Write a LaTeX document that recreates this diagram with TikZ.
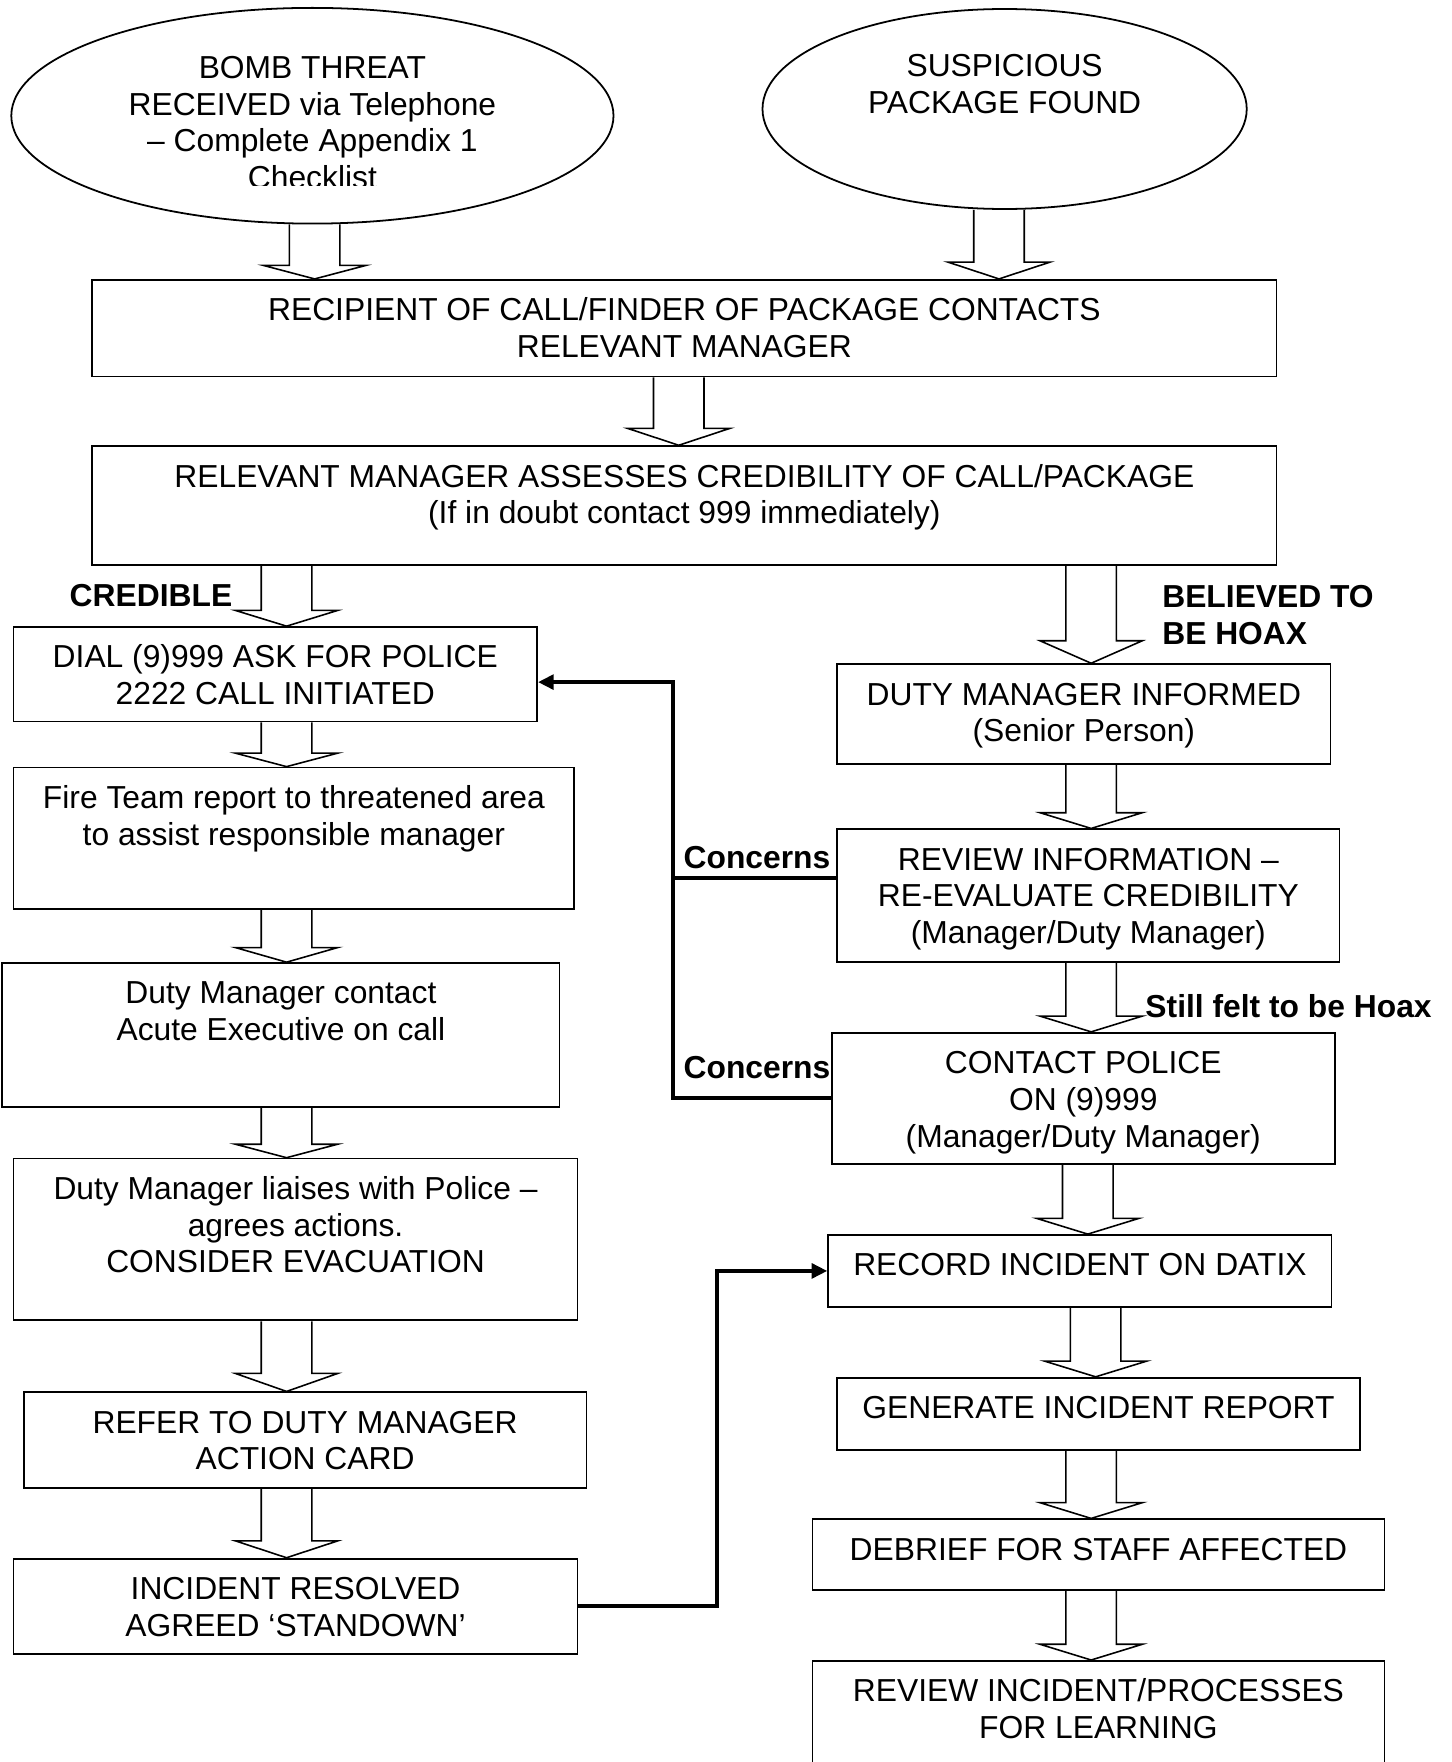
\documentclass[tikz,border=0pt]{standalone}
\usepackage{fontspec}
\setmainfont{Liberation Sans}
\usetikzlibrary{calc,arrows.meta,shapes.geometric}
\tikzset{
  boxtext/.style 2 args={inner sep=0pt,
    execute at begin node={\begin{minipage}[c][#2][t]{#1}\centering\vspace*{0.27cm}\strut},
    execute at end node={\strut\end{minipage}}},
  flowbox/.style 2 args={rectangle, draw, line width=0.9pt, boxtext={#1}{#2}},
  startbubble/.style 2 args={ellipse, draw, line width=0.9pt, inner sep=0pt, minimum width=#1, minimum height=#2},
  % --- hollow block arrows, straight down from start to target ---
  fatarrow/.style={line width=0.8pt, to path={let \p1=(\tikztostart), \p2=(\tikztotarget) in
      (\x1-0.45cm,\y1) -- (\x1-0.45cm,\y2+#1) -- (\x1-0.91cm,\y2+#1) -- (\x1,\y2)
      -- (\x1+0.91cm,\y2+#1) -- (\x1+0.45cm,\y2+#1) -- (\x1+0.45cm,\y1)}},
  fatarrow/.default=0.28cm,
  concernline/.style={line width=2pt},
  concernarrow/.style={line width=2pt, -{Triangle[length=0.28cm,width=0.26cm]}},
  branchlabel/.style={font=\fontsize{16.1pt}{18.6pt}\selectfont\bfseries, inner sep=0pt},
}
\begin{document}
\begin{tikzpicture}[x=0.02cm, y=-0.02cm, font=\fontsize{16.1pt}{18.6pt}\selectfont]
  \useasboundingbox (0,0) rectangle (1292,1568);
  \clip (0,0) rectangle (1292,1568);

  % ---------- starting points ----------
  \node[startbubble={10.72cm}{3.84cm}] (threat)  at (278,103) {};
  \node[startbubble={8.62cm}{3.56cm}]  (package) at (894,97)  {};
  \begin{scope}
    \clip (0,0) rectangle (1292,165.5);
    \node[boxtext={6.8cm}{3.2cm}, anchor=north] (threattext) at (278,33)
      {BOMB THREAT\\RECEIVED via Telephone\\– Complete Appendix 1\\Checklist};
  \end{scope}
  \node[boxtext={5.6cm}{1.4cm}, anchor=north] (packagetext) at (894,31.5) {SUSPICIOUS\\PACKAGE FOUND};

  % ---------- common steps ----------
  \node[flowbox={21.08cm}{1.72cm}] (recipient) at (609,292) {RECIPIENT OF CALL/FINDER OF PACKAGE CONTACTS\\RELEVANT MANAGER};
  \node[flowbox={21.08cm}{2.12cm}] (assess) at (609,450) {RELEVANT MANAGER ASSESSES CREDIBILITY OF CALL/PACKAGE\\(If in doubt contact 999 immediately)};

  % ---------- credible branch ----------
  \node[flowbox={9.32cm}{1.68cm}]  (dial)       at (245,600)    {DIAL (9)999 ASK FOR POLICE\\2222 CALL INITIATED};
  \node[flowbox={9.98cm}{2.52cm}]  (fireteam)   at (261.5,746)  {Fire Team report to threatened area\\to assist responsible manager};
  \node[flowbox={9.92cm}{2.56cm}]  (execcall)   at (250,921)    {Duty Manager contact\\Acute Executive on call};
  \node[flowbox={10.04cm}{2.88cm}] (liaise)     at (263,1103)   {Duty Manager liaises with Police –\\agrees actions.\\CONSIDER EVACUATION};
  \node[flowbox={10.02cm}{1.70cm}] (actioncard) at (271.5,1281.5) {REFER TO DUTY MANAGER\\ACTION CARD};
  \node[flowbox={10.04cm}{1.70cm}] (standdown)  at (263,1429.5) {INCIDENT RESOLVED\\AGREED ‘STANDOWN’};

  % ---------- hoax branch ----------
  \node[flowbox={8.78cm}{1.78cm}]  (dutyinf)    at (964.5,635.5) {DUTY MANAGER INFORMED\\(Senior Person)};
  \node[flowbox={8.94cm}{2.36cm}]  (reevaluate) at (968.5,797)   {REVIEW INFORMATION –\\RE-EVALUATE CREDIBILITY\\(Manager/Duty Manager)};
  \node[flowbox={8.96cm}{2.34cm}]  (police)     at (964,977.5)   {CONTACT POLICE\\ON (9)999\\(Manager/Duty Manager)};
  \node[flowbox={8.96cm}{1.28cm}]  (datix)      at (961,1131)    {RECORD INCIDENT ON DATIX};
  \node[flowbox={9.30cm}{1.28cm}]  (report)     at (977.5,1258)  {GENERATE INCIDENT REPORT};
  \node[flowbox={10.18cm}{1.26cm}] (debrief)    at (977.5,1383.5) {DEBRIEF FOR STAFF AFFECTED};
  \node[flowbox={10.18cm}{2.44cm}] (learning)   at (977.5,1539)  {REVIEW INCIDENT/PROCESSES\\FOR LEARNING};

  % ---------- labels ----------
  \node[branchlabel, anchor=base east] (credible) at (207,540) {CREDIBLE};
  \node[branchlabel, anchor=north west, align=left] (hoax) at (1034,520.5) {BELIEVED TO\\BE HOAX};
  \node[branchlabel, anchor=base west] (concern1) at (608,773) {Concerns};
  \node[branchlabel, anchor=base west] (concern2) at (608,960) {Concerns};
  \node[branchlabel, anchor=base west] (stillhoax) at (1019,905.5) {Still felt to be Hoax};

  % ---------- block arrows ----------
  \draw[fatarrow=0.24cm] (threat.south -| 280,0) to (recipient.north);
  \draw[fatarrow=0.30cm] (package.south -| 889,0) to (recipient.north);
  \draw[fatarrow=0.30cm] (recipient.south -| 604,0) to (assess.north);
  \draw[fatarrow=0.28cm] (assess.south -| 255,0) to (dial.north);
  \draw[fatarrow=0.40cm] (assess.south -| 971,0) to (dutyinf.north);
  \draw[fatarrow=0.24cm] (dial.south -| 255,0) to (fireteam.north);
  \draw[fatarrow=0.26cm] (fireteam.south -| 255,0) to (execcall.north);
  \draw[fatarrow=0.24cm] (execcall.south -| 255,0) to (liaise.north);
  \draw[fatarrow=0.32cm] (liaise.south -| 255,0) to (actioncard.north);
  \draw[fatarrow=0.30cm] (actioncard.south -| 255,0) to (standdown.north);
  \draw[fatarrow=0.28cm] (dutyinf.south -| 971,0) to (reevaluate.north);
  \draw[fatarrow=0.28cm] (reevaluate.south -| 971,0) to (police.north);
  \draw[fatarrow=0.28cm] (police.south -| 968,0) to (datix.north);
  \draw[fatarrow=0.28cm] (datix.south -| 975,0) to (report.north);
  \draw[fatarrow=0.28cm] (report.south -| 971,0) to (debrief.north);
  \draw[fatarrow=0.28cm] (debrief.south -| 971,0) to (learning.north);

  % ---------- concerns and stand down ----------
  \coordinate (riser) at (599,607);
  \coordinate (reviewout) at ([yshift=0.32cm]reevaluate.west);
  \draw[concernline] (reviewout) -- (reviewout -| riser);
  \draw[concernarrow] (police.west) -| (riser) -- (riser -| dial.east);
  \draw[concernarrow] (standdown.east) -- (standdown.east -| 638,0) |- (datix.west);

\end{tikzpicture}
\end{document}
